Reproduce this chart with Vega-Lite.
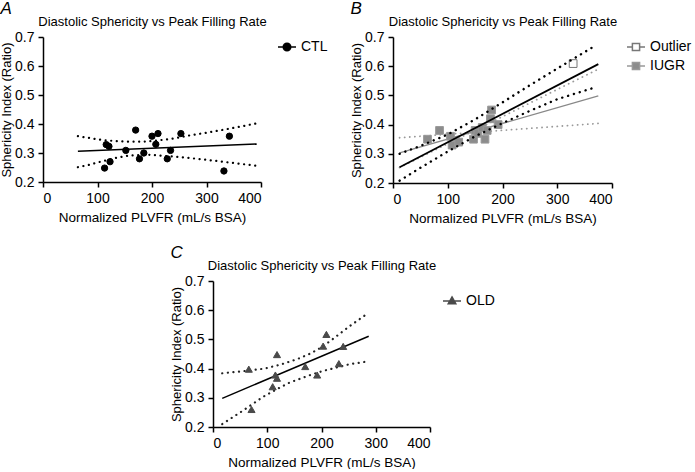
{
  "$schema": "https://vega.github.io/schema/vega-lite/v6.json",
  "padding": {"left": 0, "top": 0, "right": 0, "bottom": 0},
  "config": {
    "font": "Liberation Sans",
    "view": {"stroke": null},
    "axis": {"grid": false, "domainColor": "black", "domainWidth": 1.5, "tickColor": "black", "tickWidth": 1.5, "tickSize": 5, "labelFontSize": 14, "labelColor": "black", "labelPadding": 4, "titleFontSize": 13.5, "titleFontWeight": "normal", "titleColor": "black"},
    "legend": {"labelFontSize": 14, "labelColor": "black", "symbolStrokeWidth": 1.5, "labelOffset": 4},
    "title": {"fontSize": 17, "fontStyle": "italic", "fontWeight": "normal", "anchor": "start", "frame": "bounds", "color": "black", "offset": -3}
  },
  "datasets": {
    "A_pts": [
      {"x": 113, "y": 0.248, "group": "CTL"}, {"x": 116, "y": 0.329, "group": "CTL"}, {"x": 121, "y": 0.323, "group": "CTL"}, {"x": 123, "y": 0.27, "group": "CTL"},
      {"x": 152, "y": 0.309, "group": "CTL"}, {"x": 170, "y": 0.379, "group": "CTL"}, {"x": 177, "y": 0.28, "group": "CTL"}, {"x": 185, "y": 0.3, "group": "CTL"},
      {"x": 200, "y": 0.358, "group": "CTL"}, {"x": 207, "y": 0.33, "group": "CTL"}, {"x": 211, "y": 0.367, "group": "CTL"}, {"x": 228, "y": 0.28, "group": "CTL"},
      {"x": 234, "y": 0.309, "group": "CTL"}, {"x": 253, "y": 0.367, "group": "CTL"}, {"x": 332, "y": 0.238, "group": "CTL"}, {"x": 342, "y": 0.358, "group": "CTL"}
    ],
    "A_fit": [{"x": 64, "y": 0.306}, {"x": 392, "y": 0.331}],
    "A_band": [
      {"x": 64, "y": 0.358, "edge": "upper"}, {"x": 108, "y": 0.345, "edge": "upper"}, {"x": 133, "y": 0.341, "edge": "upper"}, {"x": 157, "y": 0.339, "edge": "upper"},
      {"x": 182, "y": 0.339, "edge": "upper"}, {"x": 200, "y": 0.341, "edge": "upper"}, {"x": 236, "y": 0.349, "edge": "upper"}, {"x": 267, "y": 0.36, "edge": "upper"},
      {"x": 297, "y": 0.369, "edge": "upper"}, {"x": 334, "y": 0.381, "edge": "upper"}, {"x": 392, "y": 0.402, "edge": "upper"},
      {"x": 64, "y": 0.251, "edge": "lower"}, {"x": 84, "y": 0.259, "edge": "lower"}, {"x": 108, "y": 0.271, "edge": "lower"}, {"x": 133, "y": 0.283, "edge": "lower"},
      {"x": 157, "y": 0.291, "edge": "lower"}, {"x": 194, "y": 0.294, "edge": "lower"}, {"x": 237, "y": 0.288, "edge": "lower"}, {"x": 267, "y": 0.283, "edge": "lower"},
      {"x": 298, "y": 0.277, "edge": "lower"}, {"x": 334, "y": 0.269, "edge": "lower"}, {"x": 392, "y": 0.256, "edge": "lower"}
    ],
    "B_pts": [
      {"x": 63, "y": 0.35, "group": "IUGR"}, {"x": 85, "y": 0.38, "group": "IUGR"}, {"x": 105, "y": 0.36, "group": "IUGR"}, {"x": 108, "y": 0.33, "group": "IUGR"},
      {"x": 120, "y": 0.34, "group": "IUGR"}, {"x": 147, "y": 0.35, "group": "IUGR"}, {"x": 150, "y": 0.38, "group": "IUGR"}, {"x": 155, "y": 0.37, "group": "IUGR"},
      {"x": 163, "y": 0.39, "group": "IUGR"}, {"x": 168, "y": 0.35, "group": "IUGR"}, {"x": 172, "y": 0.38, "group": "IUGR"}, {"x": 178, "y": 0.42, "group": "IUGR"},
      {"x": 180, "y": 0.45, "group": "IUGR"}, {"x": 192, "y": 0.4, "group": "IUGR"}, {"x": 329, "y": 0.609, "group": "Outlier"}
    ],
    "B_fit_black": [{"x": 12, "y": 0.254}, {"x": 375, "y": 0.607}],
    "B_fit_gray": [{"x": 12, "y": 0.303}, {"x": 375, "y": 0.498}],
    "B_band_black": [
      {"x": 12, "y": 0.3, "edge": "upper"}, {"x": 50, "y": 0.327, "edge": "upper"}, {"x": 100, "y": 0.366, "edge": "upper"}, {"x": 150, "y": 0.418, "edge": "upper"},
      {"x": 200, "y": 0.476, "edge": "upper"}, {"x": 250, "y": 0.535, "edge": "upper"}, {"x": 300, "y": 0.592, "edge": "upper"}, {"x": 370, "y": 0.671, "edge": "upper"},
      {"x": 12, "y": 0.208, "edge": "lower"}, {"x": 50, "y": 0.252, "edge": "lower"}, {"x": 100, "y": 0.308, "edge": "lower"}, {"x": 150, "y": 0.36, "edge": "lower"},
      {"x": 200, "y": 0.405, "edge": "lower"}, {"x": 250, "y": 0.447, "edge": "lower"}, {"x": 300, "y": 0.487, "edge": "lower"}, {"x": 370, "y": 0.528, "edge": "lower"}
    ],
    "B_band_gray": [
      {"x": 12, "y": 0.355, "edge": "flat"}, {"x": 375, "y": 0.404, "edge": "flat"},
      {"x": 12, "y": 0.253, "edge": "steep"}, {"x": 375, "y": 0.59, "edge": "steep"}
    ],
    "C_pts": [
      {"x": 66, "y": 0.398, "group": "OLD"}, {"x": 71, "y": 0.26, "group": "OLD"}, {"x": 110, "y": 0.338, "group": "OLD"}, {"x": 115, "y": 0.378, "group": "OLD"},
      {"x": 118, "y": 0.367, "group": "OLD"}, {"x": 118, "y": 0.448, "group": "OLD"}, {"x": 170, "y": 0.407, "group": "OLD"}, {"x": 192, "y": 0.378, "group": "OLD"},
      {"x": 203, "y": 0.477, "group": "OLD"}, {"x": 209, "y": 0.517, "group": "OLD"}, {"x": 232, "y": 0.417, "group": "OLD"}, {"x": 240, "y": 0.476, "group": "OLD"}
    ],
    "C_fit": [{"x": 17, "y": 0.298}, {"x": 287, "y": 0.511}],
    "C_band": [
      {"x": 17, "y": 0.384, "edge": "upper"}, {"x": 50, "y": 0.39, "edge": "upper"}, {"x": 95, "y": 0.4, "edge": "upper"}, {"x": 125, "y": 0.414, "edge": "upper"},
      {"x": 156, "y": 0.433, "edge": "upper"}, {"x": 180, "y": 0.452, "edge": "upper"}, {"x": 200, "y": 0.473, "edge": "upper"}, {"x": 225, "y": 0.507, "edge": "upper"},
      {"x": 250, "y": 0.543, "edge": "upper"}, {"x": 282, "y": 0.585, "edge": "upper"},
      {"x": 17, "y": 0.21, "edge": "lower"}, {"x": 55, "y": 0.256, "edge": "lower"}, {"x": 92, "y": 0.303, "edge": "lower"}, {"x": 117, "y": 0.329, "edge": "lower"},
      {"x": 141, "y": 0.352, "edge": "lower"}, {"x": 178, "y": 0.377, "edge": "lower"}, {"x": 203, "y": 0.392, "edge": "lower"}, {"x": 252, "y": 0.415, "edge": "lower"},
      {"x": 280, "y": 0.423, "edge": "lower"}
    ],
    "spacer": [{}]
  },
  "resolve": {"scale": {"x": "independent", "y": "independent", "fill": "independent", "stroke": "independent"}, "legend": {"fill": "independent", "stroke": "independent"}},
  "spacing": 19,
  "vconcat": [
    {
      "spacing": 22,
      "resolve": {"scale": {"x": "independent", "y": "independent", "fill": "independent", "stroke": "independent"}, "legend": {"fill": "independent", "stroke": "independent"}},
      "hconcat": [
        {
          "width": 218, "height": 145,
          "title": {"text": "A"},
          "resolve": {"axis": {"x": "independent", "y": "independent"}},
          "layer": [
            {"data": {"name": "A_band"}, "mark": {"type": "line", "color": "black", "strokeWidth": 2.2, "strokeDash": [0.1, 5.5], "strokeCap": "round"},
             "encoding": {"x": {"field": "x", "type": "quantitative", "scale": {"domain": [0, 400], "nice": false, "zero": false}, "axis": null},
                          "y": {"field": "y", "type": "quantitative", "scale": {"domain": [0.2, 0.7], "nice": false, "zero": false}, "axis": null},
                          "detail": {"field": "edge"}}},
            {"data": {"name": "A_fit"}, "mark": {"type": "line", "color": "black", "strokeWidth": 1.5},
             "encoding": {"x": {"field": "x", "type": "quantitative", "scale": {"domain": [0, 400], "nice": false, "zero": false},
                                "axis": {"orient": "top", "title": "Diastolic Sphericity vs Peak Filling Rate", "titleAnchor": "middle", "domain": false, "ticks": false, "labels": false, "titlePadding": 9, "titleFontSize": 13}},
                          "y": {"field": "y", "type": "quantitative", "scale": {"domain": [0.2, 0.7], "nice": false, "zero": false}, "axis": null}}},
            {"data": {"name": "A_pts"}, "mark": {"type": "point", "filled": true, "size": 40, "opacity": 1, "strokeWidth": 1},
             "encoding": {"x": {"field": "x", "type": "quantitative", "scale": {"domain": [0, 400], "nice": false, "zero": false},
                                "axis": {"orient": "bottom", "title": "Normalized PLVFR (mL/s BSA)", "values": [0, 100, 200, 300, 400], "titlePadding": 5}},
                          "y": {"field": "y", "type": "quantitative", "scale": {"domain": [0.2, 0.7], "nice": false, "zero": false},
                                "axis": {"orient": "left", "title": "Sphericity Index (Ratio)", "values": [0.2, 0.3, 0.4, 0.5, 0.6, 0.7], "format": ".1f", "titlePadding": 1, "titleFontSize": 13}},
                          "fill": {"field": "group", "type": "nominal", "scale": {"domain": ["CTL"], "range": ["black"]},
                                   "legend": {"title": null, "orient": "right", "offset": 15, "symbolType": "M-1,0H1M-0.42,0A0.42,0.42,0,1,0,0.42,0A0.42,0.42,0,1,0,-0.42,0Z", "symbolSize": 324}},
                          "stroke": {"field": "group", "type": "nominal", "scale": {"domain": ["CTL"], "range": ["black"]},
                                   "legend": {"title": null, "orient": "right", "offset": 15, "symbolType": "M-1,0H1M-0.42,0A0.42,0.42,0,1,0,0.42,0A0.42,0.42,0,1,0,-0.42,0Z", "symbolSize": 324}}}}
          ]
        },
        {
          "width": 219, "height": 146,
          "title": {"text": "B"},
          "resolve": {"axis": {"x": "independent", "y": "independent"}},
          "layer": [
            {"data": {"name": "B_band_gray"}, "mark": {"type": "line", "color": "#999999", "strokeWidth": 1.8, "strokeDash": [0.1, 5], "strokeCap": "round"},
             "encoding": {"x": {"field": "x", "type": "quantitative", "scale": {"domain": [0, 400], "nice": false, "zero": false}, "axis": null},
                          "y": {"field": "y", "type": "quantitative", "scale": {"domain": [0.2, 0.7], "nice": false, "zero": false}, "axis": null},
                          "detail": {"field": "edge"}}},
            {"data": {"name": "B_fit_gray"}, "mark": {"type": "line", "color": "#888888", "strokeWidth": 1.3},
             "encoding": {"x": {"field": "x", "type": "quantitative", "scale": {"domain": [0, 400], "nice": false, "zero": false}, "axis": null},
                          "y": {"field": "y", "type": "quantitative", "scale": {"domain": [0.2, 0.7], "nice": false, "zero": false}, "axis": null}}},
            {"data": {"name": "B_pts"}, "mark": {"type": "point", "shape": "square", "filled": true, "size": 60, "opacity": 1, "strokeWidth": 1},
             "encoding": {"x": {"field": "x", "type": "quantitative", "scale": {"domain": [0, 400], "nice": false, "zero": false},
                                "axis": {"orient": "bottom", "title": "Normalized PLVFR (mL/s BSA)", "values": [0, 100, 200, 300, 400], "titlePadding": 5}},
                          "y": {"field": "y", "type": "quantitative", "scale": {"domain": [0.2, 0.7], "nice": false, "zero": false},
                                "axis": {"orient": "left", "title": "Sphericity Index (Ratio)", "values": [0.2, 0.3, 0.4, 0.5, 0.6, 0.7], "format": ".1f", "titlePadding": 1, "titleFontSize": 13}},
                          "fill": {"field": "group", "type": "nominal", "scale": {"domain": ["Outlier", "IUGR"], "range": ["white", "#8c8c8c"]},
                                   "legend": {"title": null, "orient": "right", "offset": 14, "symbolType": "M-1,0H-0.4M0.4,0H1M-0.4,-0.4H0.4V0.4H-0.4Z", "symbolSize": 324}},
                          "stroke": {"field": "group", "type": "nominal", "scale": {"domain": ["Outlier", "IUGR"], "range": ["#777777", "#999999"]},
                                   "legend": {"title": null, "orient": "right", "offset": 14, "symbolType": "M-1,0H-0.4M0.4,0H1M-0.4,-0.4H0.4V0.4H-0.4Z", "symbolSize": 324}}}},
            {"data": {"name": "B_band_black"}, "mark": {"type": "line", "color": "black", "strokeWidth": 2.4, "strokeDash": [0.1, 6], "strokeCap": "round"},
             "encoding": {"x": {"field": "x", "type": "quantitative", "scale": {"domain": [0, 400], "nice": false, "zero": false}, "axis": null},
                          "y": {"field": "y", "type": "quantitative", "scale": {"domain": [0.2, 0.7], "nice": false, "zero": false}, "axis": null},
                          "detail": {"field": "edge"}}},
            {"data": {"name": "B_fit_black"}, "mark": {"type": "line", "color": "black", "strokeWidth": 1.8},
             "encoding": {"x": {"field": "x", "type": "quantitative", "scale": {"domain": [0, 400], "nice": false, "zero": false},
                                "axis": {"orient": "top", "title": "Diastolic Sphericity vs Peak Filling Rate", "titleAnchor": "middle", "domain": false, "ticks": false, "labels": false, "titlePadding": 9, "titleFontSize": 13}},
                          "y": {"field": "y", "type": "quantitative", "scale": {"domain": [0.2, 0.7], "nice": false, "zero": false}, "axis": null}}}
          ]
        }
      ]
    },
    {
      "spacing": 0,
      "resolve": {"scale": {"x": "independent", "y": "independent", "fill": "independent", "stroke": "independent"}, "legend": {"fill": "independent", "stroke": "independent"}},
      "hconcat": [
        {"data": {"name": "spacer"}, "width": 127, "height": 10, "mark": {"type": "text", "text": ""}, "encoding": {}},
        {
          "width": 217, "height": 146,
          "title": {"text": "C"},
          "resolve": {"axis": {"x": "independent", "y": "independent"}},
          "layer": [
            {"data": {"name": "C_band"}, "mark": {"type": "line", "color": "#222222", "strokeWidth": 2.2, "strokeDash": [0.1, 5.5], "strokeCap": "round"},
             "encoding": {"x": {"field": "x", "type": "quantitative", "scale": {"domain": [0, 400], "nice": false, "zero": false}, "axis": null},
                          "y": {"field": "y", "type": "quantitative", "scale": {"domain": [0.2, 0.7], "nice": false, "zero": false}, "axis": null},
                          "detail": {"field": "edge"}}},
            {"data": {"name": "C_fit"}, "mark": {"type": "line", "color": "black", "strokeWidth": 1.5},
             "encoding": {"x": {"field": "x", "type": "quantitative", "scale": {"domain": [0, 400], "nice": false, "zero": false},
                                "axis": {"orient": "top", "title": "Diastolic Sphericity vs Peak Filling Rate", "titleAnchor": "middle", "domain": false, "ticks": false, "labels": false, "titlePadding": 9, "titleFontSize": 13}},
                          "y": {"field": "y", "type": "quantitative", "scale": {"domain": [0.2, 0.7], "nice": false, "zero": false}, "axis": null}}},
            {"data": {"name": "C_pts"}, "mark": {"type": "point", "shape": "triangle-up", "filled": true, "size": 50, "opacity": 1, "strokeWidth": 1},
             "encoding": {"x": {"field": "x", "type": "quantitative", "scale": {"domain": [0, 400], "nice": false, "zero": false},
                                "axis": {"orient": "bottom", "title": "Normalized PLVFR (mL/s BSA)", "values": [0, 100, 200, 300, 400], "titlePadding": 5}},
                          "y": {"field": "y", "type": "quantitative", "scale": {"domain": [0.2, 0.7], "nice": false, "zero": false},
                                "axis": {"orient": "left", "title": "Sphericity Index (Ratio)", "values": [0.2, 0.3, 0.4, 0.5, 0.6, 0.7], "format": ".1f", "titlePadding": 1, "titleFontSize": 13}},
                          "fill": {"field": "group", "type": "nominal", "scale": {"domain": ["OLD"], "range": ["#4a4a4a"]},
                                   "legend": {"title": null, "orient": "right", "offset": 2, "padding": 10, "symbolType": "M-1,0H1M0,-0.45L0.42,0.3H-0.42Z", "symbolSize": 324}},
                          "stroke": {"field": "group", "type": "nominal", "scale": {"domain": ["OLD"], "range": ["#4a4a4a"]},
                                   "legend": {"title": null, "orient": "right", "offset": 2, "padding": 10, "symbolType": "M-1,0H1M0,-0.45L0.42,0.3H-0.42Z", "symbolSize": 324}}}}
          ]
        }
      ]
    }
  ]
}
